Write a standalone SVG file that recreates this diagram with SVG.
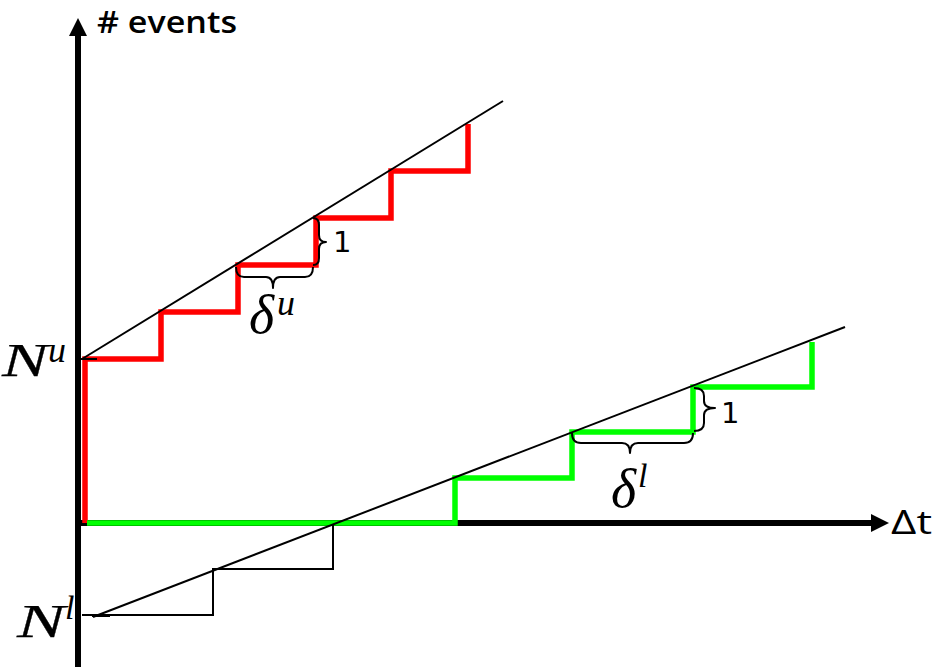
<svg xmlns="http://www.w3.org/2000/svg" width="933" height="667" viewBox="0 0 933 667">
<style>
.axis{stroke:#000;stroke-width:6;fill:none}
.thin{stroke:#000;stroke-width:2;fill:none}
.brace{stroke:#000;stroke-width:2;fill:none;stroke-linejoin:round}
.red{stroke:#ff0000;stroke-width:5.5;fill:none;stroke-linejoin:miter;stroke-linecap:butt}
.green{stroke:#00ff00;stroke-width:5.5;fill:none;stroke-linejoin:miter;stroke-linecap:butt}
.lbl{font-family:"Open Sans","DejaVu Sans",sans-serif;font-weight:600;fill:#000}
.math{font-family:"Liberation Serif","DejaVu Serif",serif;font-style:italic;fill:#000}
.one{font-family:"DejaVu Sans",sans-serif;fill:#000;font-size:29px}
</style>
<g id="axes">
<line class="axis" x1="78" y1="667" x2="78" y2="33"/>
<polygon points="78,18 69,36 87,36"/>
<line class="axis" x1="78" y1="523" x2="874" y2="523"/>
<polygon points="889,523 871,514 871,532"/>
<text class="lbl" x="97" y="33" font-size="31" textLength="140" lengthAdjust="spacingAndGlyphs">#&#160;events</text>
<text x="891" y="534" font-family="'Open Sans','DejaVu Sans',sans-serif" font-size="32" textLength="41" lengthAdjust="spacingAndGlyphs">Δt</text>
</g>
<g id="upper-staircase">
<path class="red" d="M85,523 V359 H161 V312 H238 V265 H316 V218 H391 V171 H468 V124"/>
</g>
<g id="lower-staircase">
<path class="green" d="M87,523 H455 V478 H572 V432 H693 V387 H812 V342"/>
</g>
<g id="connectors">
<line class="thin" x1="82" y1="359" x2="503" y2="101"/>
<line class="thin" x1="75" y1="359" x2="97" y2="359"/>
<line class="thin" x1="93" y1="617" x2="845" y2="327"/>
<line class="thin" x1="92" y1="616" x2="110" y2="616"/>
<path class="thin" d="M82,615 H213 V569 H333 V524"/>
</g>
<g id="braces">
<path class="brace" d="M236,267 Q236,277 244,277 L266,277 Q273,277 273,288 Q273,277 280,277 L305,277 Q313,277 313,267"/>
<path class="brace" d="M313,218 Q319,218 319,225 L319,235 Q319,242 326,242 Q319,242 319,249 L319,258 Q319,265 313,265"/>
<path class="brace" d="M572,433 Q572,443 581,443 L622,443 Q630,443 630,453 Q630,443 638,443 L684,443 Q693,443 693,433"/>
<path class="brace" d="M694,388 Q704,388 704,396 L704,401 Q704,408 715,408 Q704,408 704,415 L704,423 Q704,431 694,431"/>
</g>
<g id="labels">
<text class="math" x="2" y="376" font-size="46" textLength="46" lengthAdjust="spacingAndGlyphs" stroke="#000" stroke-width="0.25">N</text>
<text class="math" x="48" y="362" font-size="36">u</text>
<text class="math" x="17" y="637" font-size="46" textLength="48" lengthAdjust="spacingAndGlyphs" stroke="#000" stroke-width="0.25">N</text>
<text class="math" x="65" y="619" font-size="34">l</text>
<text class="math" x="249" y="333" font-size="54">δ</text>
<text class="math" x="277" y="315" font-size="36">u</text>
<text class="math" x="611" y="507" font-size="54">δ</text>
<text class="math" x="638" y="487" font-size="34">l</text>
<text class="one" x="333" y="252">1</text>
<text class="one" x="721" y="423">1</text>
</g>
</svg>
